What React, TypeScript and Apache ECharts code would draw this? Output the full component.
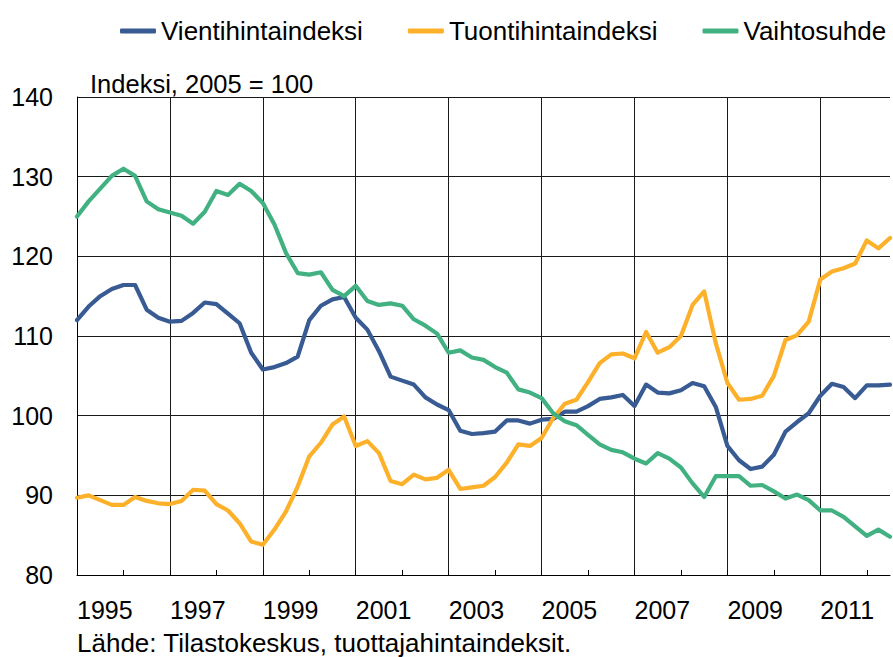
import React, { useEffect, useRef } from "react";
import * as echarts from "echarts";

// Quarterly categories 1995Q1 .. 2012Q3
const startYear = 1995;
const quarterCount = 71;
const categories: string[] = [];
for (let i = 0; i < quarterCount; i++) {
  categories.push(`${startYear + Math.floor(i / 4)}Q${(i % 4) + 1}`);
}

const seriesNames = ["Vientihintaindeksi", "Tuontihintaindeksi", "Vaihtosuhde"];

const vientihintaindeksi = [
  112.0, 113.7, 115.0, 115.9, 116.4, 116.4, 113.3, 112.3,
  111.8, 111.9, 112.9, 114.2, 114.0, 112.8, 111.6, 107.9,
  105.8, 106.1, 106.6, 107.4, 112.0, 113.8, 114.6, 114.9,
  112.3, 110.8, 108.1, 104.9, 104.4, 103.9, 102.3, 101.4,
  100.7, 98.1, 97.7, 97.8, 98.0, 99.4, 99.4, 99.0,
  99.5, 99.6, 100.5, 100.5, 101.2, 102.1, 102.3, 102.6,
  101.2, 103.9, 102.9, 102.8, 103.2, 104.1, 103.7, 101.1,
  96.2, 94.4, 93.3, 93.6, 95.1, 98.0, 99.2, 100.3,
  102.5, 104.0, 103.6, 102.2, 103.8, 103.8, 103.9,
];

const tuontihintaindeksi = [
  89.7, 90.0, 89.4, 88.8, 88.8, 89.8, 89.3, 89.0,
  88.9, 89.3, 90.7, 90.6, 88.9, 88.1, 86.5, 84.2,
  83.8, 85.7, 88.0, 91.1, 94.9, 96.6, 98.9, 99.9,
  96.2, 96.8, 95.3, 91.8, 91.4, 92.6, 92.0, 92.2,
  93.2, 90.8, 91.0, 91.2, 92.3, 94.1, 96.4, 96.2,
  97.2, 99.7, 101.5, 102.0, 104.2, 106.6, 107.7, 107.8,
  107.2, 110.5, 107.9, 108.6, 110.0, 113.9, 115.6, 109.1,
  104.1, 102.0, 102.1, 102.5, 105.0, 109.5, 110.1, 111.8,
  117.1, 118.1, 118.5, 119.1, 122.0, 121.0, 122.3,
];

const vaihtosuhde = [
  125.0, 126.9, 128.5, 130.1, 131.0, 130.1, 126.9, 125.9,
  125.5, 125.1, 124.1, 125.6, 128.2, 127.7, 129.1, 128.2,
  126.7, 124.0, 120.4, 117.9, 117.7, 118.0, 115.8, 115.0,
  116.3, 114.4, 113.9, 114.1, 113.8, 112.1, 111.3, 110.3,
  107.9, 108.2, 107.3, 107.0, 106.1, 105.4, 103.3, 102.9,
  102.2, 100.3, 99.3, 98.8, 97.6, 96.4, 95.7, 95.4,
  94.6, 94.0, 95.3, 94.6, 93.5, 91.5, 89.8, 92.4,
  92.4, 92.4, 91.2, 91.3, 90.5, 89.6, 90.1, 89.4,
  88.1, 88.1, 87.3, 86.1, 84.9, 85.7, 84.8,
];

const colors = ["#385B93", "#FDB12A", "#42B182"];

const yMin = 80;
const yMax = 140;
const yInterval = 10;

const unitText = "Indeksi, 2005 = 100";
const sourceText = "Lähde: Tilastokeskus, tuottajahintaindeksit.";

const FONT = '"Liberation Sans", Arial, sans-serif';

export default function App() {
  const ref = useRef<HTMLDivElement>(null);

  useEffect(() => {
    document.body.style.margin = "0";
    if (!ref.current) return;
    const chart = echarts.init(ref.current, undefined, { renderer: "svg" });
    const dataSets = [vientihintaindeksi, tuontihintaindeksi, vaihtosuhde];
    chart.setOption({
      animation: false,
      backgroundColor: "#ffffff",
      textStyle: { fontFamily: FONT },
      legend: {
        left: 115,
        top: 13,
        icon: "roundRect",
        itemWidth: 36,
        itemHeight: 5,
        itemGap: 45,
        textStyle: { fontSize: 26, color: "#000", fontFamily: FONT },
        data: seriesNames,
      },
      grid: { left: 77, right: 3, top: 97, bottom: 82, containLabel: false },
      xAxis: {
        type: "category",
        data: categories,
        boundaryGap: false,
        axisLine: { show: true, lineStyle: { color: "#000", width: 1 } },
        axisTick: {
          show: true,
          inside: true,
          length: 5,
          interval: (i: number) => i % 4 === 0,
          lineStyle: { color: "#000", width: 1 },
        },
        splitLine: {
          show: true,
          interval: (i: number) => i % 8 === 0,
          lineStyle: { color: "#1a1a1a", width: 1 },
        },
        axisLabel: {
          interval: (i: number) => i % 8 === 0,
          formatter: (v: string) => v.slice(0, 4),
          align: "left",
          margin: 22,
          fontSize: 25,
          color: "#000",
          fontFamily: FONT,
        },
      },
      yAxis: {
        type: "value",
        min: yMin,
        max: yMax,
        interval: yInterval,
        axisLine: { show: true, lineStyle: { color: "#000", width: 1 } },
        axisTick: { show: false },
        splitLine: { show: true, lineStyle: { color: "#1a1a1a", width: 1 } },
        axisLabel: { margin: 24, fontSize: 25, color: "#000", fontFamily: FONT },
      },
      graphic: [
        {
          type: "text",
          x: 90,
          y: 84,
          style: {
            text: unitText,
            font: `25.5px ${FONT}`,
            fill: "#000",
            align: "left",
            verticalAlign: "middle",
          },
        },
        {
          type: "text",
          x: 77,
          y: 643,
          style: {
            text: sourceText,
            font: `26px ${FONT}`,
            fill: "#000",
            align: "left",
            verticalAlign: "middle",
          },
        },
      ],
      series: seriesNames.map((name, k) => ({
        name,
        type: "line",
        data: dataSets[k],
        symbol: "none",
        smooth: false,
        color: colors[k],
        itemStyle: { color: colors[k] },
        lineStyle: { color: colors[k], width: 4.2, cap: "round", join: "round" },
      })),
    });
    return () => chart.dispose();
  }, []);

  return <div ref={ref} style={{ width: 893, height: 657 }} />;
}
